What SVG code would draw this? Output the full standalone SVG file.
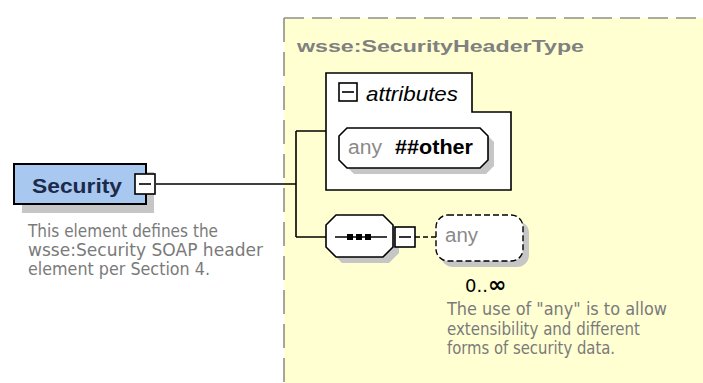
<svg xmlns="http://www.w3.org/2000/svg" width="703" height="383" viewBox="0 0 703 383">
<style>
.ln{stroke:#000;stroke-width:1.6;fill:none}
.box{stroke:#000;stroke-width:1.6;fill:#fff}
.shadow{fill:#c6c6c6}
.desc{font-family:"DejaVu Sans",sans-serif;font-size:17px;fill:#7a7a7a}
.sans{font-family:"Liberation Sans",Arial,sans-serif}
</style>
<rect x="0" y="0" width="703" height="383" fill="#fff"/>
<g id="type-area">
<rect x="284" y="18" width="430" height="380" fill="#ffffd2"/>
<path d="M284,18 H703" stroke="#909088" stroke-width="1.6" stroke-dasharray="20,8" fill="none"/>
<path d="M284,18 V383" stroke="#909088" stroke-width="1.6" stroke-dasharray="24,10" fill="none"/>
<text x="297" y="52" class="sans" font-size="17" font-weight="bold" fill="#808080" textLength="287" lengthAdjust="spacingAndGlyphs">wsse:SecurityHeaderType</text>
</g>
<g id="connectors">
<path class="ln" d="M156,184 H296 M296,131 V237 M296,131 H326 M296,237 H326"/>
<path d="M415,237 H436" stroke="#000" stroke-width="1.4" stroke-dasharray="5,3" fill="none"/>
</g>
<g id="security">
<rect x="22" y="172" width="132" height="41" class="shadow"/>
<rect x="14" y="164" width="132" height="40" fill="#a8c8f0" stroke="#000" stroke-width="2"/>
<text x="32" y="193" class="sans" font-size="21" font-weight="bold" fill="#1c2a4c" textLength="90" lengthAdjust="spacingAndGlyphs">Security</text>
<rect x="135" y="174" width="20" height="20" class="box"/>
<path class="ln" d="M139,184 H151"/>
<text class="desc" x="28" y="237" textLength="190" lengthAdjust="spacingAndGlyphs">This element defines the</text>
<text class="desc" x="28" y="256" textLength="235" lengthAdjust="spacingAndGlyphs">wsse:Security SOAP header</text>
<text class="desc" x="28" y="275" textLength="182" lengthAdjust="spacingAndGlyphs">element per Section 4.</text>
</g>
<g id="attributes">
<path class="box" d="M326,73 H472 V112 H511 V190 H326 Z"/>
<rect x="339" y="83" width="18" height="18" class="box"/>
<path class="ln" d="M342,92 H354"/>
<text x="366" y="101" class="sans" font-size="21" font-style="italic" fill="#000" textLength="92" lengthAdjust="spacingAndGlyphs">attributes</text>
</g>
<g id="any-other">
<path class="shadow" d="M354,134 H486 L494,142 V166 L486,174 H354 L346,166 V142 Z"/>
<path class="box" d="M347,128 H480 L488,136 V160 L480,168 H347 L339,160 V136 Z"/>
<text x="348" y="154" class="sans" font-size="20" fill="#8a8a8a" textLength="34" lengthAdjust="spacingAndGlyphs">any</text>
<text x="395" y="154" class="sans" font-size="20" font-weight="bold" fill="#000" textLength="78" lengthAdjust="spacingAndGlyphs">##other</text>
</g>
<g id="sequence">
<path class="shadow" d="M342,221 H389 L399,231 V253 L389,263 H342 L332,253 V231 Z"/>
<path class="box" d="M336,215 H383 L393,225 V247 L383,257 H336 L326,247 V225 Z"/>
<path class="ln" d="M335,237 H387"/>
<rect x="347" y="234" width="6" height="6" fill="#000"/>
<rect x="356" y="234" width="6" height="6" fill="#000"/>
<rect x="365" y="234" width="6" height="6" fill="#000"/>
<rect x="395" y="227" width="20" height="20" class="box"/>
<path class="ln" d="M399,237 H411"/>
</g>
<g id="any">
<rect x="441" y="221" width="88" height="46" rx="12" class="shadow"/>
<rect x="436" y="215" width="87" height="46" rx="12" fill="#fff" stroke="#000" stroke-width="1.4" stroke-dasharray="6,3"/>
<text x="445" y="242" class="sans" font-size="20" fill="#8a8a8a" textLength="33" lengthAdjust="spacingAndGlyphs">any</text>
<text x="465" y="292" font-family="DejaVu Sans,sans-serif" font-size="18" fill="#000">0..<tspan font-size="22" font-weight="bold">∞</tspan></text>
<text class="desc" x="447" y="315" textLength="220" lengthAdjust="spacingAndGlyphs">The use of "any" is to allow</text>
<text class="desc" x="447" y="335" textLength="193" lengthAdjust="spacingAndGlyphs">extensibility and different</text>
<text class="desc" x="447" y="354" textLength="168" lengthAdjust="spacingAndGlyphs">forms of security data.</text>
</g>
</svg>
